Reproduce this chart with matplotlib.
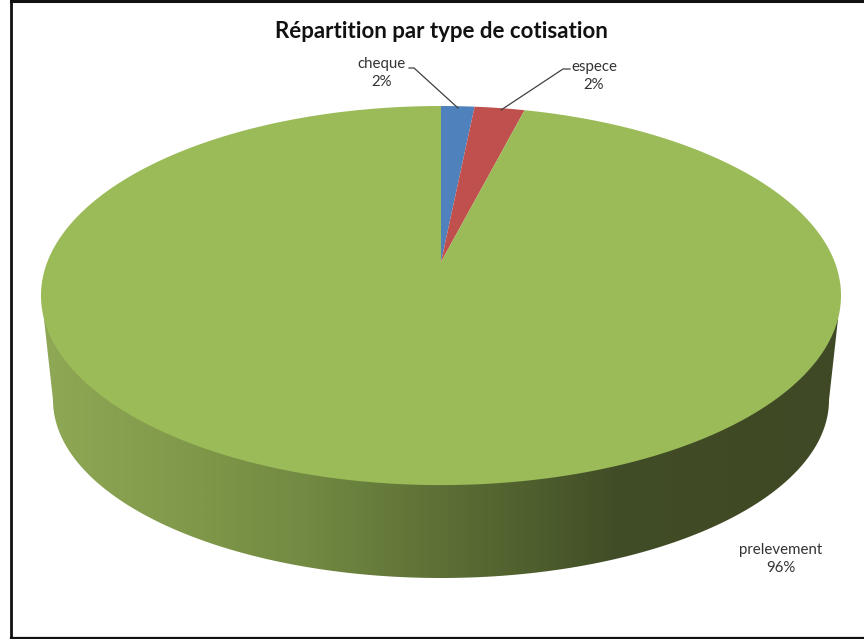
"""Repartition par type de cotisation : camembert 3D"""

import numpy as np
import matplotlib
matplotlib.use("Agg")
import matplotlib.pyplot as plt
from matplotlib.colors import LinearSegmentedColormap
from matplotlib.patches import Polygon

categories = ["cheque", "espece", "prelevement"]
values = [1.6, 2.4, 96.0]
labels_pct = ["2%", "2%", "96%"]
colors = ["#4f81bd", "#c0504d", "#9bbb59"]

# geometrie du camembert, en pixels
CX, CY = 441, 262
RX, RY, PERSP = 393.7, 183.6, 0.177
BOTTOM_CX, BOTTOM_CY, BOTTOM_RX, BOTTOM_RY = 441, 400, 388, 178


def project(theta):
    """Angle horaire depuis le haut -> point du dessus en perspective"""
    u = np.sin(theta)
    v = np.cos(theta)
    den = 1 + PERSP * v
    return CX + RX * u / den, CY - RY * v / den


def draw_side(axe):
    """Paroi du cylindre avec son degrade"""
    theta = np.linspace(np.pi * 0.5, np.pi * 1.5, 300)
    xs = BOTTOM_CX + BOTTOM_RX * np.sin(theta)
    ys = BOTTOM_CY - BOTTOM_RY * np.cos(theta)
    outline = [(839, 310)] + list(zip(xs, ys)) + [(43, 310), (60, 296), (822, 296)]
    patch = Polygon(outline, closed=True, transform=axe.transData, fc="none", ec="none")
    axe.add_patch(patch)

    cmap = LinearSegmentedColormap.from_list("side", [
        (0.0, "#8fa855"), (0.2, "#7f9749"), (0.33, "#728a42"),
        (0.5, "#5d7036"), (0.62, "#4e5e2d"), (0.72, "#414d27"), (1.0, "#3f4925"),
    ])
    grad = np.linspace(0, 1, 512).reshape(1, -1)
    img = axe.imshow(grad, cmap=cmap, extent=(43, 838, 600, 250), aspect="auto", zorder=1)
    img.set_clip_path(patch)


def draw_top(axe):
    """Dessus du camembert, une part par valeur"""
    edges = np.cumsum([0] + values) / sum(values) * 2 * np.pi
    for start, end, color in zip(edges[:-1], edges[1:], colors):
        theta = np.linspace(start, end, max(8, int((end - start) * 200)))
        xs, ys = project(theta)
        axe.fill(np.r_[CX, xs], np.r_[CY, ys], color=color, lw=0, zorder=2)


def main():
    """Trace la figure"""
    plt.rcParams["font.family"] = ["Lato", "DejaVu Sans"]
    fig = plt.figure(figsize=(8.64, 6.39), dpi=100)
    axe = fig.add_axes([0, 0, 1, 1])
    axe.set_xlim(0, 864)
    axe.set_ylim(639, 0)
    axe.axis("off")

    draw_side(axe)
    draw_top(axe)
    axe.set_xlim(0, 864)
    axe.set_ylim(639, 0)

    # cadre (pas de bord droit)
    axe.plot([11, 11], [0, 638], color="#111111", lw=2, zorder=5)
    axe.plot([11, 864], [1, 1], color="#111111", lw=2.2, zorder=5)
    axe.plot([11, 864], [637.5, 637.5], color="#111111", lw=1.6, zorder=5)

    axe.text(441, 32, "Répartition par type de cotisation", fontsize=16,
             fontweight="bold", color="#111111", ha="center", va="center")

    # traits de rappel
    axe.plot([409, 414, 458], [68, 68, 108], color="#404040", lw=0.9, zorder=3)
    axe.plot([570, 563, 501], [69, 69, 110], color="#404040", lw=0.9, zorder=3)

    label_pos = [(382, 73), (594, 76), (781, 559)]
    for name, pct, (x_pos, y_pos) in zip(categories, labels_pct, label_pos):
        axe.text(x_pos, y_pos, "{}\n{}".format(name, pct), fontsize=10.8, color="#333333",
                 ha="center", va="center", linespacing=1.45)

    fig.savefig("out.png", dpi=100)


if __name__ == "__main__":
    main()
